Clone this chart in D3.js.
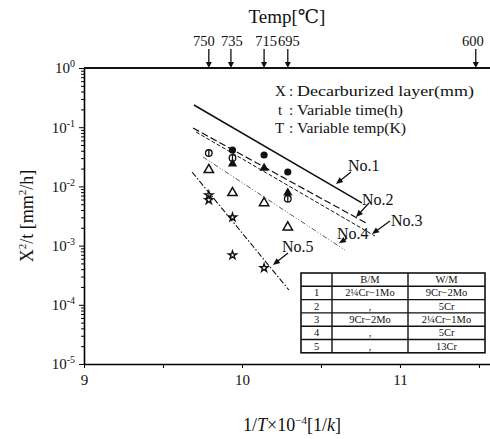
<!DOCTYPE html>
<meta charset="utf-8">
<html>
<head>
    <script src="https://d3js.org/d3.v7.min.js"></script>
    <style>
        body { margin: 0; background: white; }
        text { font-family: "Liberation Serif", "DejaVu Serif", serif; fill: #111; }
    </style>
</head>
<body>
<script>

    // temperature marks on top axis (1/T x 10^-4 position, label in C)
    const tempPos = [9.79, 9.93, 10.14, 10.29, 11.48];
    const tempLabels = ["750", "735", "715", "695", "600"];

    // measured points per series
    const no1X = [9.94, 10.14, 10.29];
    const no1Y = [0.0412, 0.0339, 0.0175];
    const no2X = [9.79, 9.94, 10.29];
    const no2Y = [0.0366, 0.0302, 0.00617];
    const no3X = [9.94, 10.14, 10.29];
    const no3Y = [0.024, 0.0204, 0.00776];
    const no4X = [9.79, 9.94, 10.14, 10.29];
    const no4Y = [0.019, 0.00776, 0.00525, 0.00204];
    const no5X = [9.79, 9.79, 9.94, 9.94, 10.14];
    const no5Y = [0.0071, 0.0059, 0.0030, 0.00069, 0.00042];

    // fitted lines (start / end)
    const lineNames = ["No.1", "No.2", "No.3", "No.4", "No.5"];
    const lineX0 = [9.696, 9.690, 9.709, 9.753, 9.684];
    const lineY0 = [0.237, 0.0969, 0.083, 0.0314, 0.0175];
    const lineX1 = [10.759, 10.797, 10.842, 10.652, 10.297];
    const lineY1 = [0.00525, 0.00232, 0.00145, 0.00084, 0.000178];

    // label positions and their arrows
    const labelX = [10.671, 10.759, 10.943, 10.601, 10.253];
    const labelY = [0.0182, 0.00485, 0.00214, 0.00129, 0.00078];
    const tailX = [10.690, 10.804, 10.937, 10.665, 10.291];
    const tailY = [0.0175, 0.00525, 0.0026, 0.00134, 0.00075];
    const headX = [10.595, 10.722, 10.823, 10.614, 10.196];
    const headY = [0.011, 0.00304, 0.00157, 0.0011, 0.00047];

    // table
    const tableHead = ["", "B/M", "W/M"];
    const tableRows = [
        ["1", "2¼Cr−1Mo", "9Cr−2Mo"],
        ["2", ",", "5Cr"],
        ["3", "9Cr−2Mo", "2¼Cr−1Mo"],
        ["4", ",", "5Cr"],
        ["5", ",", "13Cr"]
    ];

    const xTicks = [9, 9.5, 10, 10.5, 11, 11.5];
    const xLabels = [9, 10, 11];
    const yMajor = [1e-5, 1e-4, 1e-3, 1e-2, 1e-1, 1];

    const width = 490, height = 439;
    const svg = d3.select("body").append("svg")
        .attr("width", width)
        .attr("height", height);

    const x = d3.scaleLinear().domain([9, 11.57]).range([84, 490]);
    const y = d3.scaleLog().domain([1e-5, 1]).range([364, 68]);

    // bottom axis
    const xAxis = svg.append("g")
        .attr("transform", `translate(0,${y(1e-5)})`)
        .call(d3.axisBottom(x).tickValues(xTicks).tickSize(4).tickSizeOuter(0)
            .tickFormat(d => xLabels.includes(d) ? d : ""));
    xAxis.select(".domain").attr("stroke-width", 1.6);
    xAxis.selectAll("text").attr("font-size", 15).attr("dy", "0.95em");

    // left axis: minor then major
    const minor = [];
    for (let e = -5; e < 0; e++) for (let m = 2; m <= 9; m++) minor.push(m * Math.pow(10, e));
    svg.append("g")
        .attr("transform", `translate(${x(9)},0)`)
        .call(d3.axisLeft(y).tickValues(minor).tickSize(3).tickFormat(""))
        .select(".domain").remove();
    const yAxis = svg.append("g")
        .attr("transform", `translate(${x(9)},0)`)
        .call(d3.axisLeft(y).tickValues(yMajor).tickSize(5).tickSizeOuter(0));
    yAxis.select(".domain").attr("stroke-width", 1.6);
    yAxis.selectAll("text").each(function (d) {
        const t = d3.select(this).text("").attr("font-size", 15).attr("x", -9);
        t.append("tspan").text("10");
        t.append("tspan").attr("font-size", 10).attr("dy", -6).text(Math.round(Math.log10(d)));
    });

    // top axis with temperature arrows
    svg.append("line")
        .attr("x1", x(9)).attr("x2", width)
        .attr("y1", y(1)).attr("y2", y(1))
        .attr("stroke", "#111").attr("stroke-width", 1.8);
    const labelShift = [-5, 1, 2, 1, -3];
    const topG = svg.append("g");
    tempPos.forEach((p, i) => {
        const px = x(p), py = y(1);
        topG.append("line").attr("x1", px).attr("x2", px)
            .attr("y1", py - 19).attr("y2", py - 4)
            .attr("stroke", "#111").attr("stroke-width", 1.3);
        topG.append("path")
            .attr("d", `M${px - 3},${py - 6}L${px + 3},${py - 6}L${px},${py}Z`)
            .attr("fill", "#111");
        topG.append("text").attr("x", px + labelShift[i]).attr("y", py - 22)
            .attr("text-anchor", "middle").attr("font-size", 14.5)
            .text(tempLabels[i]);
    });
    svg.append("text").attr("x", 287).attr("y", 23)
        .attr("text-anchor", "middle").attr("font-size", 19)
        .text("Temp[℃]");

    // axis titles
    const xt = svg.append("text").attr("x", 292).attr("y", 431)
        .attr("text-anchor", "middle").attr("font-size", 18);
    xt.append("tspan").text("1/");
    xt.append("tspan").attr("font-style", "italic").text("T");
    xt.append("tspan").text("×10");
    xt.append("tspan").attr("font-size", 11).attr("dy", -7).text("−4");
    xt.append("tspan").attr("dy", 7).text("[1/");
    xt.append("tspan").attr("font-style", "italic").text("k");
    xt.append("tspan").text("]");

    const yt = svg.append("text")
        .attr("transform", "translate(33,216) rotate(-90)")
        .attr("text-anchor", "middle").attr("font-size", 18);
    yt.append("tspan").text("X");
    yt.append("tspan").attr("font-size", 11).attr("dy", -7).text("2");
    yt.append("tspan").attr("dy", 7).text("/t [mm");
    yt.append("tspan").attr("font-size", 11).attr("dy", -7).text("2");
    yt.append("tspan").attr("dy", 7).text("/h]");

    // legend description
    const desc = [
        ["X", "Decarburized layer(mm)", 177],
        ["t", "Variable time(h)", 106],
        ["T", "Variable temp(K)", 109]
    ];
    desc.forEach((d, i) => {
        const by = 96 + i * 18.5;
        svg.append("text").attr("x", 275 + (d[0] === "t" ? 3 : 0)).attr("y", by).attr("font-size", 15).text(d[0]);
        svg.append("text").attr("x", 289).attr("y", by).attr("font-size", 15).text(":");
        svg.append("text").attr("x", 297).attr("y", by).attr("font-size", 15)
            .attr("textLength", d[2]).attr("lengthAdjust", "spacingAndGlyphs").text(d[1]);
    });

    // fitted lines
    const dashes = [null, "7,3", "4,2", "5,2,1,2,1,2", "6,2,1.5,2"];
    const widths = [1.5, 1.2, 1.0, 0.9, 1.1];
    lineNames.forEach((n, i) => {
        svg.append("line")
            .attr("x1", x(lineX0[i])).attr("y1", y(lineY0[i]))
            .attr("x2", x(lineX1[i])).attr("y2", y(lineY1[i]))
            .attr("stroke", i === 3 ? "#444" : "#111")
            .attr("stroke-width", widths[i])
            .attr("stroke-dasharray", dashes[i]);
    });

    // labels + arrows
    lineNames.forEach((n, i) => {
        svg.append("text").attr("x", x(labelX[i])).attr("y", y(labelY[i]))
            .attr("font-size", 16).text(n);
        const x1 = x(tailX[i]), y1 = y(tailY[i]), x2 = x(headX[i]), y2 = y(headY[i]);
        const a = Math.atan2(y2 - y1, x2 - x1);
        svg.append("line").attr("x1", x1).attr("y1", y1)
            .attr("x2", x2 - 4 * Math.cos(a)).attr("y2", y2 - 4 * Math.sin(a))
            .attr("stroke", "#111").attr("stroke-width", 1.3);
        const l = 7, w = 3;
        const bx = x2 - l * Math.cos(a), by = y2 - l * Math.sin(a);
        svg.append("path")
            .attr("d", `M${x2},${y2}L${bx - w * Math.sin(a)},${by + w * Math.cos(a)}L${bx + w * Math.sin(a)},${by - w * Math.cos(a)}Z`)
            .attr("fill", "#111");
    });

    // points
    const pts = svg.append("g");
    no1X.forEach((v, i) => {
        pts.append("circle").attr("cx", x(v)).attr("cy", y(no1Y[i])).attr("r", 3.6).attr("fill", "#111");
    });
    no2X.forEach((v, i) => {
        const cx = x(v), cy = y(no2Y[i]);
        pts.append("circle").attr("cx", cx).attr("cy", cy).attr("r", 3.3)
            .attr("fill", "white").attr("stroke", "#111").attr("stroke-width", 1.3);
        pts.append("line").attr("x1", cx).attr("x2", cx).attr("y1", cy - 3.3).attr("y2", cy + 3.3)
            .attr("stroke", "#111").attr("stroke-width", 1.3);
    });
    const tri = d3.symbol().type(d3.symbolTriangle).size(38);
    no3X.forEach((v, i) => {
        pts.append("path").attr("d", tri).attr("transform", `translate(${x(v)},${y(no3Y[i])})`).attr("fill", "#111");
    });
    no4X.forEach((v, i) => {
        pts.append("path").attr("d", tri).attr("transform", `translate(${x(v)},${y(no4Y[i])})`)
            .attr("fill", "white").attr("stroke", "#111").attr("stroke-width", 1.5);
    });
    const star = d3.symbol().type(d3.symbolStar).size(20);
    no5X.forEach((v, i) => {
        pts.append("path").attr("d", star).attr("transform", `translate(${x(v)},${y(no5Y[i])})`)
            .attr("fill", "white").attr("stroke", "#111").attr("stroke-width", 1.4);
    });

    // table of materials
    const colX = [301, 332, 408, 485];
    const rowH = 13.3, top0 = 273;
    const tbl = svg.append("g");
    const nRows = tableRows.length + 1;
    tbl.append("rect").attr("x", colX[0]).attr("y", top0)
        .attr("width", colX[3] - colX[0]).attr("height", rowH * nRows)
        .attr("fill", "white").attr("stroke", "#111").attr("stroke-width", 1.6);
    for (let r = 1; r < nRows; r++) {
        tbl.append("line").attr("x1", colX[0]).attr("x2", colX[3])
            .attr("y1", top0 + r * rowH).attr("y2", top0 + r * rowH)
            .attr("stroke", "#111").attr("stroke-width", 1.4);
    }
    [1, 2].forEach(c => {
        tbl.append("line").attr("x1", colX[c]).attr("x2", colX[c])
            .attr("y1", top0).attr("y2", top0 + rowH * nRows)
            .attr("stroke", "#111").attr("stroke-width", 1.4);
    });
    [tableHead].concat(tableRows).forEach((row, r) => {
        row.forEach((cell, c) => {
            tbl.append("text")
                .attr("x", (colX[c] + colX[c + 1]) / 2)
                .attr("y", top0 + r * rowH + rowH / 2 + 3.5)
                .attr("text-anchor", "middle").attr("font-size", 10.5)
                .text(cell);
        });
    });

</script>
</body>
</html>
